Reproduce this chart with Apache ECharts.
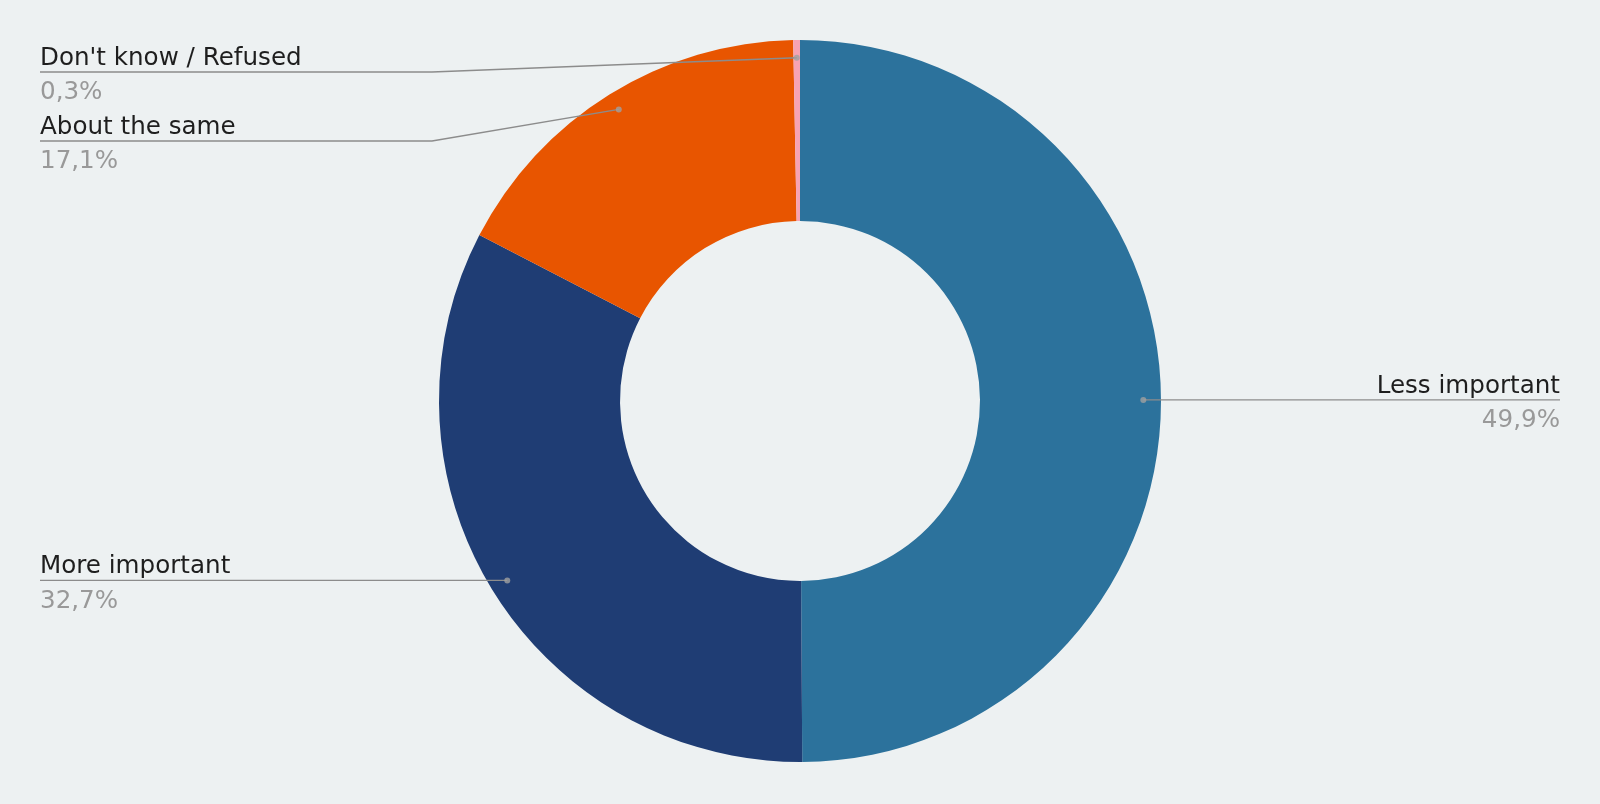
<!DOCTYPE html>
<html><head><meta charset="utf-8">
<script src="https://cdn.jsdelivr.net/npm/echarts@6/dist/echarts.min.js"></script>
<style>html,body{margin:0;padding:0;background:#edf1f2}#c{width:1600px;height:804px}</style>
</head><body><div id="c"></div>
<script>
// ---- data ----
const categories = ['Less important', 'More important', 'About the same', "Don't know / Refused"];
const values = [49.9, 32.7, 17.1, 0.3];
const colors = ['#2c729c', '#1f3d74', '#e85500', '#f7a3b3'];

// ---- layout / style ----
const CY = 401, R_OUT = 361, R_IN = 180, DOT_R = 0.951;
const EDGE = 40, CORNER_GAP = 7, LABEL_H = 69, TOP_MIN = 72, LABEL_DY = 3;
const FONT = "'DejaVu Sans', Verdana, sans-serif";

const total = values.reduce((a, b) => a + b, 0);
let cum = 0;
const mids = values.map(v => { const m = cum + v / 2; cum += v; return m; });

const chart = echarts.init(document.getElementById('c'));
const W = chart.getWidth(), H = chart.getHeight();

const fmtPct = v => v.toFixed(1).replace('.', ',') + '%';
const pieData = categories.map((c, i) => ({ name: c, value: values[i], itemStyle: { color: colors[i] } }));

const option = {
  backgroundColor: '#edf1f2',
  animation: false,
  polar: { center: ['50%', CY], radius: R_OUT },
  angleAxis: { type: 'value', min: 0, max: total, startAngle: 90, clockwise: true, show: false },
  radiusAxis: { type: 'value', min: 0, max: 1, show: false },
  series: [
    {
      type: 'pie',
      center: ['50%', CY],
      radius: [R_IN, R_OUT],
      startAngle: 90,
      clockwise: true,
      silent: true,
      emphasis: { disabled: true },
      data: pieData,
      label: { show: false },
      labelLine: { show: false },
      z: 2
    },
    {
      // transparent overlay carrying the labels so the leader lines sit above the slices
      type: 'pie',
      center: ['50%', CY],
      radius: [R_IN, R_OUT],
      startAngle: 90,
      clockwise: true,
      silent: true,
      emphasis: { disabled: true },
      data: categories.map((c, i) => ({ name: c, value: values[i] })),
      itemStyle: { color: 'rgba(0,0,0,0)' },
      label: {
        show: true,
        position: 'outside',
        formatter: p => `{n|${p.name}}\n{p|${fmtPct(p.value)}}`,
        rich: {
          n: { fontSize: 24.6, lineHeight: 36, color: '#1e1e1e', fontFamily: FONT },
          p: { fontSize: 24.6, lineHeight: 33, color: '#999999', fontFamily: FONT }
        }
      },
      labelLine: { show: true, length: 5, length2: 5, lineStyle: { color: '#8c8c8c', width: 1.4 } },
      z: 4
    },
    {
      type: 'scatter',
      coordinateSystem: 'polar',
      silent: true,
      symbolSize: 6,
      itemStyle: { color: '#a0a0a0' },
      data: mids.map(m => [DOT_R, m]),
      z: 5
    }
  ]
};
chart.setOption(option);

// anchor points from the polar coordinate system
const anchors = mids.map(m => chart.convertToPixel({ polarIndex: 0 }, [DOT_R, m]));
const CX = chart.convertToPixel({ polarIndex: 0 }, [0, 0])[0];

const layout = [];
['left', 'right'].forEach(side => {
  const idx = anchors.map((a, i) => i).filter(i => side === 'left' ? anchors[i][0] < CX : anchors[i][0] >= CX);
  idx.sort((a, b) => anchors[a][1] - anchors[b][1]);
  let prev = -Infinity;
  idx.forEach(i => {
    const y = Math.max(anchors[i][1], prev + LABEL_H, TOP_MIN);
    prev = y;
    const edgeX = side === 'left' ? EDGE : W - EDGE;
    const cornerX = side === 'left' ? CX - R_OUT - CORNER_GAP : CX + R_OUT + CORNER_GAP;
    layout[i] = {
      x: edgeX, y: y + LABEL_DY, align: side === 'left' ? 'left' : 'right',
      points: [[anchors[i][0], anchors[i][1]], [cornerX, y], [edgeX, y]]
    };
  });
});

chart.setOption({
  series: [{}, {
    labelLayout: p => {
      const L = layout[p.dataIndex];
      return { x: L.x, y: L.y, align: L.align, verticalAlign: 'middle', labelLinePoints: L.points };
    }
  }, {}]
});
</script></body></html>
